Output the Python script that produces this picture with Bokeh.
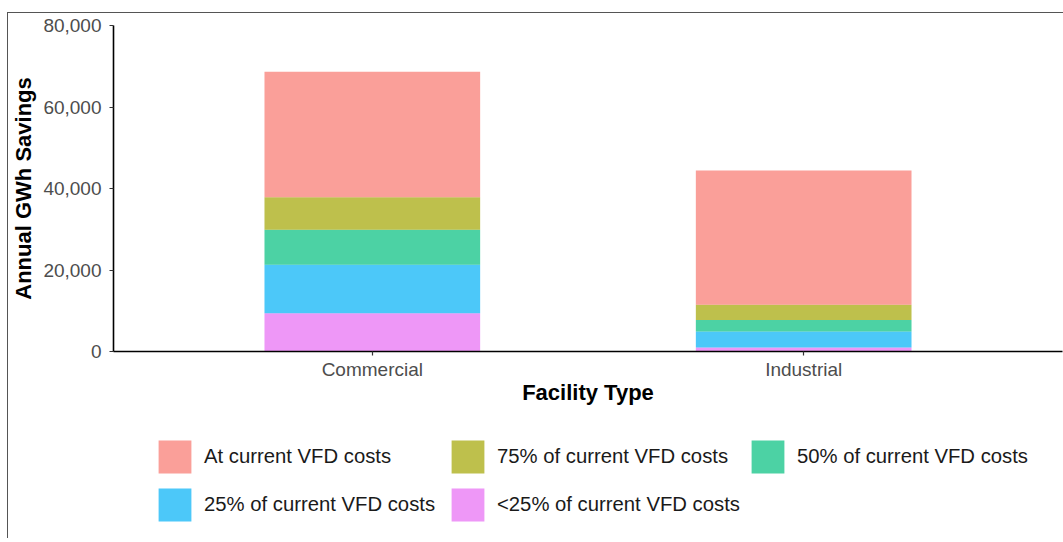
from bokeh.plotting import figure
from bokeh.layouts import column
from bokeh.models import (ColumnDataSource, FactorRange, Range1d, FixedTicker,
                          NumeralTickFormatter, Legend, LegendItem)
from bokeh.embed import file_html
from bokeh.resources import INLINE

# ---- data ----
categories = ["Commercial", "Industrial"]
tiers = ["lt25", "p25", "p50", "p75", "at"]  # stacking order, bottom to top
tier_labels = ["<25% of current VFD costs", "25% of current VFD costs",
               "50% of current VFD costs", "75% of current VFD costs",
               "At current VFD costs"]
lt25 = [9400, 1000]
p25 = [11900, 3900]
p50 = [8550, 2800]
p75 = [8000, 3800]
at = [30800, 32900]
tier_colors = ["#E76BF3", "#00B0F6", "#00BF7D", "#A3A500", "#F8766D"]
y_ticks = [0, 20000, 40000, 60000, 80000]

src = ColumnDataSource(dict(cat=categories, lt25=lt25, p25=p25, p50=p50, p75=p75, at=at))

FONT = "Liberation Sans"

p = figure(width=1055, height=415, output_backend="svg", toolbar_location=None,
           x_range=FactorRange(factors=categories, range_padding=0.1,
                               range_padding_units="absolute"),
           y_range=Range1d(0, 80000),
           min_border_left=104, min_border_right=1, min_border_top=12,
           min_border_bottom=77)

rs = p.vbar_stack(tiers, x="cat", width=0.5, source=src, color=tier_colors,
                  fill_alpha=0.7, line_color=None)

p.outline_line_color = None
p.xgrid.grid_line_color = None
p.ygrid.grid_line_color = None
p.background_fill_color = "white"
p.border_fill_color = "white"

for ax in (p.xaxis[0], p.yaxis[0]):
    ax.axis_line_color = "black"
    ax.axis_line_width = 1.6
    ax.major_tick_line_color = "#333333"
    ax.major_tick_line_width = 1.2
    ax.major_tick_out = 4
    ax.major_tick_in = 0
    ax.minor_tick_line_color = None
    ax.major_label_text_font = FONT
    ax.major_label_text_font_size = "19px"
    ax.major_label_text_color = "#4D4D4D"
    ax.axis_label_text_font = FONT
    ax.axis_label_text_font_size = "22px"
    ax.axis_label_text_font_style = "bold"
    ax.axis_label_text_color = "black"

p.xaxis.axis_label = "Facility Type"
p.xaxis.major_label_standoff = 3
p.xaxis.axis_label_standoff = -3
p.yaxis.axis_label = "Annual GWh Savings"
p.yaxis.ticker = FixedTicker(ticks=y_ticks)
p.yaxis.formatter = NumeralTickFormatter(format="0,0")
p.yaxis.major_label_standoff = 8
p.yaxis.axis_label_standoff = 4

# ---- legend (separate panel below the plot) ----
lg = figure(width=1055, height=110, output_backend="svg", toolbar_location=None,
            x_axis_type=None, y_axis_type=None, x_range=Range1d(0, 1),
            y_range=Range1d(0, 1), min_border=0)
lg.outline_line_color = None
lg.background_fill_color = "white"
lg.border_fill_color = "white"
# zero-height swatch renderers, used only for the legend keys
swatches = [lg.vbar(x=[0.5], top=[0], bottom=[0], width=0.5, color=tier_colors[i],
                    fill_alpha=0.7, line_color=None) for i in range(len(tiers))]

order = [4, 3, 2, 1, 0]
items = [LegendItem(label=tier_labels[i], renderers=[swatches[i]]) for i in order]
legend = Legend(items=items, orientation="horizontal", ncols=3,
                glyph_width=41, glyph_height=41, label_standoff=9, spacing=7,
                label_width=236,
                label_text_font=FONT, label_text_font_size="20.3px",
                label_text_color="#1A1A1A", border_line_color=None,
                background_fill_alpha=0, padding=0, margin=0,
                location=(41, 13), click_policy="none")
lg.add_layout(legend)

layout = column(p, lg, spacing=0)
layout.styles = {"margin-top": "12px", "margin-left": "7px",
                 "border-top": "1px solid #555555", "border-left": "1px solid #555555"}

open("out.html", "w").write(file_html(layout, INLINE))
